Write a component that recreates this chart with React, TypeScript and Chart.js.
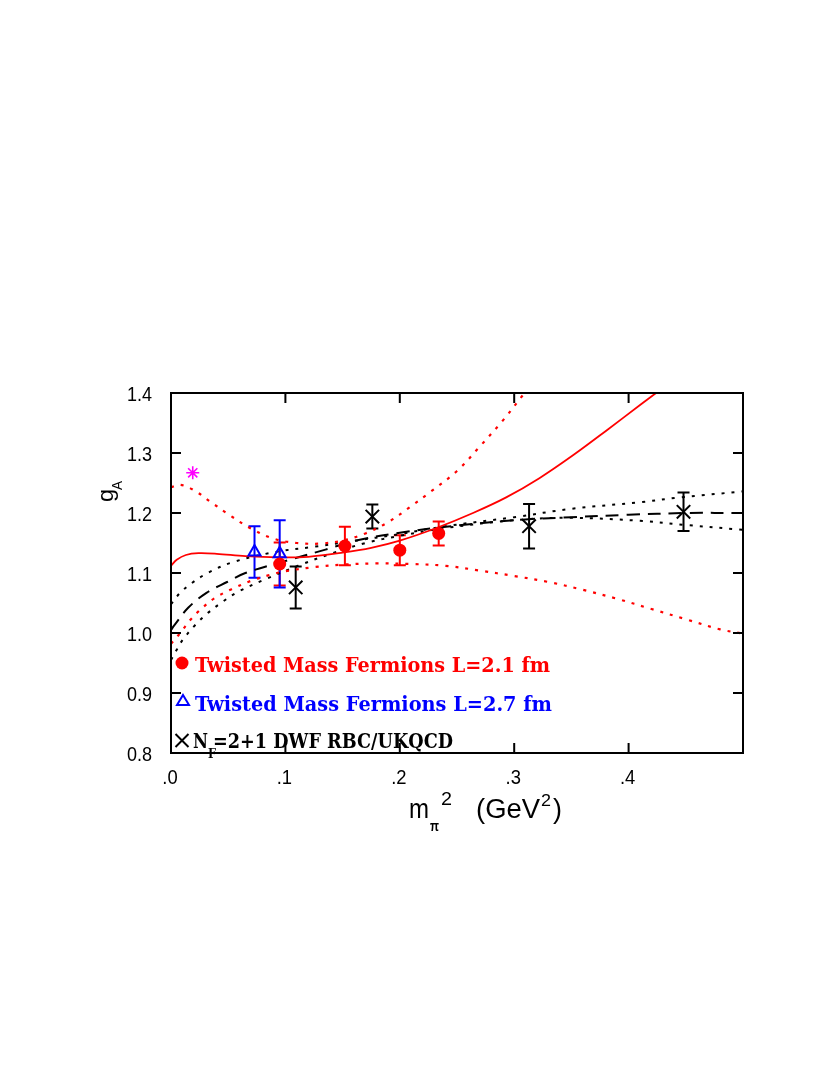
import React, { useEffect, useRef } from "react";
import { Chart, registerables } from "chart.js";

Chart.register(...registerables);

// ---- axes ----
const X_MIN = 0;
const X_MAX = 0.5;
const Y_MIN = 0.8;
const Y_MAX = 1.4;
const xTicks = [0, 0.1, 0.2, 0.3, 0.4];
const xTickLabels = [".0", ".1", ".2", ".3", ".4"];
const yTicks = [0.8, 0.9, 1.0, 1.1, 1.2, 1.3, 1.4];
const yTickLabels = ["0.8", "0.9", "1.0", "1.1", "1.2", "1.3", "1.4"];

// ---- data points ----
const tm21X = [0.095, 0.152, 0.2, 0.234];
const tm21Y = [1.115, 1.145, 1.138, 1.166];
const tm21Err = [0.036, 0.032, 0.025, 0.02];

const tm27X = [0.073, 0.095];
const tm27Y = [1.135, 1.132];
const tm27Err = [0.043, 0.056];

const dwfX = [0.109, 0.176, 0.313, 0.448];
const dwfY = [1.076, 1.194, 1.178, 1.202];
const dwfErr = [0.035, 0.02, 0.037, 0.032];

const physX = [0.019];
const physY = [1.267];

// ---- fit curves ----
const redFitX = [0, 0.005, 0.013, 0.024, 0.04, 0.065, 0.094, 0.12, 0.15, 0.175, 0.2, 0.232, 0.264, 0.293, 0.322, 0.352, 0.381, 0.41, 0.424];
const redFitY = [1.112, 1.122, 1.13, 1.133, 1.132, 1.128, 1.126, 1.127, 1.134, 1.142, 1.154, 1.175, 1.2, 1.226, 1.258, 1.297, 1.338, 1.38, 1.4];

const redUpX = [0, 0.008, 0.02, 0.035, 0.05, 0.07, 0.09, 0.11, 0.13, 0.15, 0.17, 0.19, 0.209, 0.226, 0.25, 0.27, 0.29, 0.309];
const redUpY = [1.243, 1.247, 1.238, 1.218, 1.198, 1.174, 1.157, 1.15, 1.149, 1.154, 1.166, 1.185, 1.21, 1.234, 1.27, 1.311, 1.354, 1.4];

const redLoX = [0, 0.008, 0.017, 0.024, 0.038, 0.053, 0.07, 0.085, 0.1, 0.126, 0.15, 0.18, 0.21, 0.24, 0.27, 0.3, 0.33, 0.36, 0.39, 0.42, 0.45, 0.48, 0.5];
const redLoY = [0.982, 1.0, 1.022, 1.036, 1.058, 1.073, 1.087, 1.096, 1.103, 1.11, 1.114, 1.116, 1.115, 1.112, 1.104, 1.095, 1.085, 1.072, 1.057, 1.04, 1.023, 1.006, 0.999];

const dwfFitX = [0, 0.003, 0.015, 0.031, 0.049, 0.065, 0.1, 0.135, 0.164, 0.2, 0.24, 0.3, 0.35, 0.4, 0.45, 0.5];
const dwfFitY = [1.005, 1.013, 1.042, 1.067, 1.085, 1.1, 1.12, 1.139, 1.155, 1.167, 1.177, 1.188, 1.193, 1.197, 1.2, 1.2];

const dwfUpX = [0, 0.008, 0.018, 0.032, 0.054, 0.091, 0.126, 0.158, 0.2, 0.24, 0.3, 0.35, 0.41, 0.445, 0.5];
const dwfUpY = [1.048, 1.067, 1.083, 1.1, 1.118, 1.135, 1.144, 1.153, 1.165, 1.178, 1.193, 1.207, 1.218, 1.226, 1.236];

const dwfLoX = [0, 0.005, 0.01, 0.021, 0.032, 0.045, 0.06, 0.083, 0.111, 0.141, 0.17, 0.2, 0.24, 0.3, 0.35, 0.41, 0.45, 0.5];
const dwfLoY = [0.955, 0.972, 0.988, 1.013, 1.033, 1.052, 1.07, 1.09, 1.112, 1.133, 1.15, 1.162, 1.175, 1.188, 1.192, 1.187, 1.18, 1.172];

// ---- legend ----
const legend1 = "Twisted Mass Fermions L=2.1 fm";
const legend2 = "Twisted Mass Fermions L=2.7 fm";
const legend3Main = "N";
const legend3Sub = "F";
const legend3Rest = "=2+1 DWF RBC/UKQCD";

const RED = "#ff0000";
const BLUE = "#0000ff";
const BLACK = "#000000";
const MAGENTA = "#ff00ff";

const pts = (xs: number[], ys: number[]) => xs.map((x, i) => ({ x, y: ys[i] }));

function drawScaledText(
  ctx: CanvasRenderingContext2D,
  text: string,
  x: number,
  y: number,
  font: string,
  color: string,
  targetWidth?: number
) {
  ctx.save();
  ctx.font = font;
  ctx.fillStyle = color;
  ctx.textBaseline = "alphabetic";
  ctx.textAlign = "left";
  const w = ctx.measureText(text).width;
  const sx = targetWidth ? targetWidth / w : 1;
  ctx.translate(x, y);
  ctx.scale(sx, 1);
  ctx.fillText(text, 0, 0);
  ctx.restore();
}

const errorBarPlugin = {
  id: "errorBars",
  beforeDatasetsDraw(chart: any) {
    const { ctx } = chart;
    const xs = chart.scales.x;
    const ys = chart.scales.y;
    const groups: [number[], number[], number[], string][] = [
      [tm21X, tm21Y, tm21Err, RED],
      [tm27X, tm27Y, tm27Err, BLUE],
      [dwfX, dwfY, dwfErr, BLACK],
    ];
    ctx.save();
    ctx.lineWidth = 2;
    groups.forEach(([gx, gy, ge, color]) => {
      ctx.strokeStyle = color;
      gx.forEach((x, i) => {
        const px = xs.getPixelForValue(x);
        const top = ys.getPixelForValue(gy[i] + ge[i]);
        const bot = ys.getPixelForValue(gy[i] - ge[i]);
        ctx.beginPath();
        ctx.moveTo(px, top);
        ctx.lineTo(px, bot);
        ctx.moveTo(px - 6, top);
        ctx.lineTo(px + 6, top);
        ctx.moveTo(px - 6, bot);
        ctx.lineTo(px + 6, bot);
        ctx.stroke();
      });
    });
    ctx.restore();
  },
};

const framePlugin = {
  id: "frame",
  afterDraw(chart: any) {
    const { ctx, chartArea: a } = chart;
    const xs = chart.scales.x;
    const ys = chart.scales.y;
    ctx.save();
    ctx.strokeStyle = BLACK;
    ctx.lineWidth = 2;
    ctx.strokeRect(a.left, a.top, a.right - a.left, a.bottom - a.top);
    const tl = 10;
    ctx.beginPath();
    xTicks.forEach((v) => {
      if (v === X_MIN) return;
      const px = xs.getPixelForValue(v);
      ctx.moveTo(px, a.bottom);
      ctx.lineTo(px, a.bottom - tl);
      ctx.moveTo(px, a.top);
      ctx.lineTo(px, a.top + tl);
    });
    yTicks.forEach((v) => {
      if (v === Y_MIN || v === Y_MAX) return;
      const py = ys.getPixelForValue(v);
      ctx.moveTo(a.left, py);
      ctx.lineTo(a.left + tl, py);
      ctx.moveTo(a.right, py);
      ctx.lineTo(a.right - tl, py);
    });
    ctx.stroke();

    // tick labels
    const tickFont = "20px 'Liberation Sans'";
    ctx.fillStyle = BLACK;
    xTicks.forEach((v, i) => {
      const px = xs.getPixelForValue(v);
      const t = xTickLabels[i];
      ctx.font = tickFont;
      const w = ctx.measureText(t).width * 0.92;
      drawScaledText(ctx, t, px - w / 2 - 1, a.bottom + 31, tickFont, BLACK, w);
    });
    yTicks.forEach((v, i) => {
      const py = ys.getPixelForValue(v);
      const t = yTickLabels[i];
      ctx.font = tickFont;
      const w = ctx.measureText(t).width * 0.9;
      drawScaledText(ctx, t, a.left - 19 - w, py + 7.5, tickFont, BLACK, w);
    });

    // x axis title: m_pi^2 (GeV^2)
    const tf = "27px 'Liberation Sans'";
    drawScaledText(ctx, "m", 409, 818, tf, BLACK, 20);
    drawScaledText(ctx, "\u03c0", 430, 831, "bold 15px 'Liberation Sans'", BLACK, 9);
    drawScaledText(ctx, "2", 441, 805, "18px 'Liberation Sans'", BLACK, 11);
    drawScaledText(ctx, "(GeV", 476, 818, tf, BLACK, 64);
    drawScaledText(ctx, "2", 541, 806, "17px 'Liberation Sans'", BLACK, 10);
    drawScaledText(ctx, ")", 553, 818, tf, BLACK, 9);

    // y axis title: g_A (rotated)
    ctx.save();
    ctx.translate(113, 502);
    ctx.rotate(-Math.PI / 2);
    drawScaledText(ctx, "g", 0, 0, "22px 'Liberation Sans'", BLACK, 13);
    ctx.restore();
    ctx.save();
    ctx.translate(122, 490);
    ctx.rotate(-Math.PI / 2);
    drawScaledText(ctx, "A", 0, 0, "14px 'Liberation Sans'", BLACK, 9);
    ctx.restore();

    // legend markers
    const lx = a.left + 11;
    ctx.fillStyle = RED;
    ctx.beginPath();
    ctx.arc(lx, 663, 6.5, 0, Math.PI * 2);
    ctx.fill();

    ctx.strokeStyle = BLUE;
    ctx.lineWidth = 2;
    ctx.beginPath();
    ctx.moveTo(lx + 1, 695);
    ctx.lineTo(lx + 7, 705);
    ctx.lineTo(lx - 5, 705);
    ctx.closePath();
    ctx.stroke();

    ctx.strokeStyle = BLACK;
    ctx.beginPath();
    ctx.moveTo(lx - 6.5, 734);
    ctx.lineTo(lx + 6.5, 747);
    ctx.moveTo(lx + 6.5, 734);
    ctx.lineTo(lx - 6.5, 747);
    ctx.stroke();

    // legend texts
    const lf = "bold 20px 'DejaVu Serif'";
    drawScaledText(ctx, legend1, a.left + 24, 672, lf, RED, 355);
    drawScaledText(ctx, legend2, a.left + 24, 711, lf, BLUE, 357);
    drawScaledText(ctx, legend3Main, a.left + 22, 748, lf, BLACK, 15);
    drawScaledText(ctx, legend3Sub, a.left + 37, 758, "bold 12px 'DejaVu Serif'", BLACK, 8);
    drawScaledText(ctx, legend3Rest, a.left + 42, 748, lf, BLACK, 240);
    ctx.restore();
  },
};

export default function App() {
  const ref = useRef<HTMLCanvasElement | null>(null);
  useEffect(() => {
    if (!ref.current) return;
    const lineDs = (xs: number[], ys: number[], color: string, dash: number[], width: number) => ({
      type: "line" as const,
      data: pts(xs, ys),
      borderColor: color,
      borderWidth: width,
      borderDash: dash,
      borderCapStyle: "butt" as const,
      pointRadius: 0,
      fill: false,
      showLine: true,
      tension: 0.35,
    });
    const chart = new Chart(ref.current, {
      type: "scatter",
      data: {
        datasets: [
          {
            data: pts(tm21X, tm21Y),
            pointStyle: "circle",
            pointRadius: 6.5,
            backgroundColor: RED,
            borderColor: RED,
            borderWidth: 0,
          },
          {
            data: pts(tm27X, tm27Y),
            pointStyle: "triangle",
            pointRadius: 7,
            backgroundColor: "rgba(0,0,0,0)",
            borderColor: BLUE,
            borderWidth: 2,
          },
          {
            data: pts(dwfX, dwfY),
            pointStyle: "crossRot",
            pointRadius: 9.5,
            borderColor: BLACK,
            borderWidth: 2,
          },
          {
            data: pts(physX, physY),
            pointStyle: "star",
            pointRadius: 6.5,
            borderColor: MAGENTA,
            borderWidth: 1.6,
          },
          lineDs(redFitX, redFitY, RED, [], 1.8),
          lineDs(redUpX, redUpY, RED, [3, 7], 2.2),
          lineDs(redLoX, redLoY, RED, [3, 7], 2.2),
          lineDs(dwfFitX, dwfFitY, BLACK, [13, 8], 2),
          lineDs(dwfUpX, dwfUpY, BLACK, [3, 7], 2),
          lineDs(dwfLoX, dwfLoY, BLACK, [3, 7], 2),
        ] as any,
      },
      options: {
        animation: false,
        responsive: false,
        devicePixelRatio: 1,
        layout: { padding: { left: 171, top: 393, right: 87, bottom: 322 } },
        plugins: { legend: { display: false }, tooltip: { enabled: false } },
        scales: {
          x: { type: "linear", min: X_MIN, max: X_MAX, display: false },
          y: { type: "linear", min: Y_MIN, max: Y_MAX, display: false },
        },
      },
      plugins: [errorBarPlugin, framePlugin],
    });
    return () => chart.destroy();
  }, []);
  return (
    <div style={{ position: "absolute", left: 0, top: 0, width: 830, height: 1075, background: "#fff" }}>
      <canvas ref={ref} width={830} height={1075} />
    </div>
  );
}
